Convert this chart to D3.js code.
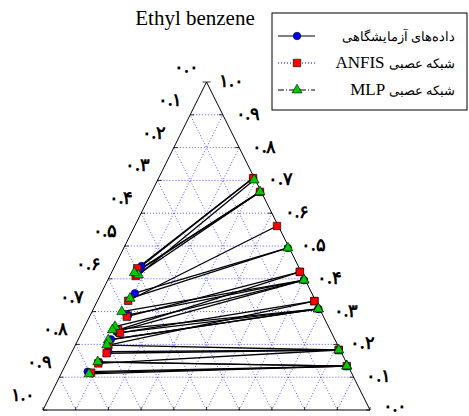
<!DOCTYPE html>
<html><head><meta charset="utf-8">
<script src="https://cdn.jsdelivr.net/npm/d3@7"></script>
<style>body{margin:0;background:#fff}svg{display:block}</style>
</head><body>
<svg id="c" width="469" height="416"></svg>
<script>
// Ternary data: a = apex component (Ethyl benzene), r = bottom-right component fraction
const tieIds = [1,2,3,4,5,6,7,8,9,10];
// Experimental (left phase)
const expLeftA = [0.439,0.427,0.356,0.290,0.239,0.235,0.2155,0.178,0.146,0.117];
const expLeftR = [0.082,0.082,0.103,0.116,0.106,0.112,0.100,0.111,0.098,0.078];
// Experimental (right phase, on right edge)
const expRightA = [0.707,0.665,0.494,0.396,0.396,0.308,0.308,0.183,0.134,0.134];
// ANFIS
const anfLeftA = [0.432,0.4085,0.333,0.2845,0.244,0.235,0.198,0.173,0.142,0.114];
const anfLeftR = [0.072,0.079,0.094,0.114,0.108,0.118,0.101,0.108,0.098,0.090];
const anfRightA = [0.707,0.665,0.561,0.421,0.421,0.332,0.332,0.183,0.183,0.134];
// MLP
const mlpLeftA = [0.4116,0.4186,0.3405,0.2997,0.254,0.244,0.2134,0.198,0.147,0.110];
const mlpLeftR = [0.086,0.070,0.096,0.091,0.093,0.090,0.093,0.096,0.094,0.086];
const mlpRightA = [0.701,0.665,0.494,0.396,0.396,0.308,0.308,0.183,0.134,0.134];

const leftTickLabels = ["۰.۰","۰.۱","۰.۲","۰.۳","۰.۴","۰.۵","۰.۶","۰.۷","۰.۸","۰.۹","۱.۰"];
const rightTickLabels = ["۱.۰","۰.۹","۰.۸","۰.۷","۰.۶","۰.۵","۰.۴","۰.۳","۰.۲","۰.۱","۰.۰"];
const legendLatin = ["","ANFIS","MLP"];
const legendPersian = ["داده‌های آزمایشگاهی","شبکه عصبی","شبکه عصبی"];
const titleText = "Ethyl benzene";

const svg = d3.select("#c");
const BLx = 43, BRx = 370, baseY = 410, topY = 82;
const yS = d3.scaleLinear().domain([0,1]).range([baseY, topY]);
const xS = d3.scaleLinear().domain([0,1]).range([BLx, BRx]);
function P(a, r){ return [xS(r + a/2), yS(a)]; }

const g = svg.append("g");
// grid
const gridLines = [];
for (let i=1;i<10;i++){
  const t=i/10;
  gridLines.push([P(t,0),P(t,1-t)]);
  gridLines.push([P(0,t),P(1-t,t)]);
  gridLines.push([P(0,1-t),P(1-t,0)]);
}
g.selectAll("line.grid").data(gridLines).join("line")
 .attr("x1",d=>d[0][0]).attr("y1",d=>d[0][1]).attr("x2",d=>d[1][0]).attr("y2",d=>d[1][1])
 .attr("stroke","#2f2fff").attr("stroke-width",0.8).attr("stroke-dasharray","1,2");

// triangle
const tri = [P(0,0),P(0,1),P(1,0)];
g.append("path").attr("d","M"+tri.map(p=>p.join(",")).join("L")+"Z")
 .attr("fill","none").attr("stroke","#000").attr("stroke-width",1);
// ticks
const ticks = d3.range(0,11).map(i=>i/10);
ticks.forEach(t=>{
  const pL = P(1-t,0), pR = P(t,1-t), pB = P(0,t);
  g.append("line").attr("x1",pL[0]).attr("y1",pL[1]).attr("x2",pL[0]+4).attr("y2",pL[1]).attr("stroke","#000").attr("stroke-width",0.8);
  g.append("line").attr("x1",pR[0]).attr("y1",pR[1]).attr("x2",pR[0]-4).attr("y2",pR[1]).attr("stroke","#000").attr("stroke-width",0.8);
  g.append("line").attr("x1",pB[0]).attr("y1",pB[1]).attr("x2",pB[0]).attr("y2",pB[1]-3).attr("stroke","#000").attr("stroke-width",0.8);
});
// tick labels
const fontF = "'Liberation Serif','DejaVu Serif',serif";
leftTickLabels.forEach((s,i)=>{
  const p = P(1-i/10,0);
  g.append("text").attr("x",p[0]-20).attr("y",p[1]-9).attr("text-anchor","middle")
   .attr("font-family",fontF).attr("font-size",18).attr("font-weight","bold").text(s);
});
rightTickLabels.forEach((s,i)=>{
  const a = 1-i/10;
  const p = P(a,1-a);
  g.append("text").attr("x",p[0]+25).attr("y",p[1]+(i===10?2:5)).attr("text-anchor","middle")
   .attr("font-family",fontF).attr("font-size",18).attr("font-weight","bold").text(s);
});
// title
svg.append("text").attr("x",195).attr("y",25).attr("text-anchor","middle")
 .attr("font-family",fontF).attr("font-size",21).text(titleText);

// series
const series = [
 {la:expLeftA, lr:expLeftR, ra:expRightA, color:"#0000ff", shape:"circle"},
 {la:anfLeftA, lr:anfLeftR, ra:anfRightA, color:"#ff0000", shape:"square"},
 {la:mlpLeftA, lr:mlpLeftR, ra:mlpRightA, color:"#00cc00", shape:"triangle"}
];
const symGen = {circle:d3.symbol(d3.symbolCircle,44), square:d3.symbol(d3.symbolSquare,56), triangle:d3.symbol(d3.symbolTriangle,44)};
series.forEach(s=>{
  tieIds.forEach((id,i)=>{
    const p1 = P(s.la[i], s.lr[i]);
    const p2 = P(s.ra[i], 1-s.ra[i]-0.004);
    g.append("line").attr("x1",p1[0]).attr("y1",p1[1]).attr("x2",p2[0]).attr("y2",p2[1])
     .attr("stroke","#000").attr("stroke-width",1.3);
  });
});
series.forEach(s=>{
  tieIds.forEach((id,i)=>{
    const pts=[P(s.la[i], s.lr[i]), P(s.ra[i], 1-s.ra[i]-0.004)];
    pts.forEach(p=>{
      g.append("path").attr("d",symGen[s.shape]()).attr("transform",`translate(${p[0]},${p[1]})`)
       .attr("fill",s.color).attr("stroke","#000").attr("stroke-width",0.6);
    });
  });
});

// legend
const lg = svg.append("g");
lg.append("rect").attr("x",272).attr("y",13).attr("width",195).attr("height",97)
 .attr("fill","#fff").attr("stroke","#000").attr("stroke-width",1);
const legY=[36,63,90];
const legDash=[null,"1,2","6,2,1,2"];
const legStroke=["#000","#0000ff","#000"];
legendPersian.forEach((t,i)=>{
  lg.append("line").attr("x1",278).attr("x2",315).attr("y1",legY[i]).attr("y2",legY[i])
   .attr("stroke",legStroke[i]).attr("stroke-width",1).attr("stroke-dasharray",legDash[i]);
  lg.append("path").attr("d",symGen[series[i].shape]()).attr("transform",`translate(297,${legY[i]})`)
   .attr("fill",series[i].color).attr("stroke","#000").attr("stroke-width",0.6);
  const tx = lg.append("text").attr("x",455).attr("y",legY[i]+5).attr("text-anchor","end")
   .attr("font-family",fontF);
  if (legendLatin[i]) tx.append("tspan").attr("font-size",17).text(legendLatin[i]+" ");
  tx.append("tspan").attr("font-size",13).text(t);
});
</script>
</body></html>
